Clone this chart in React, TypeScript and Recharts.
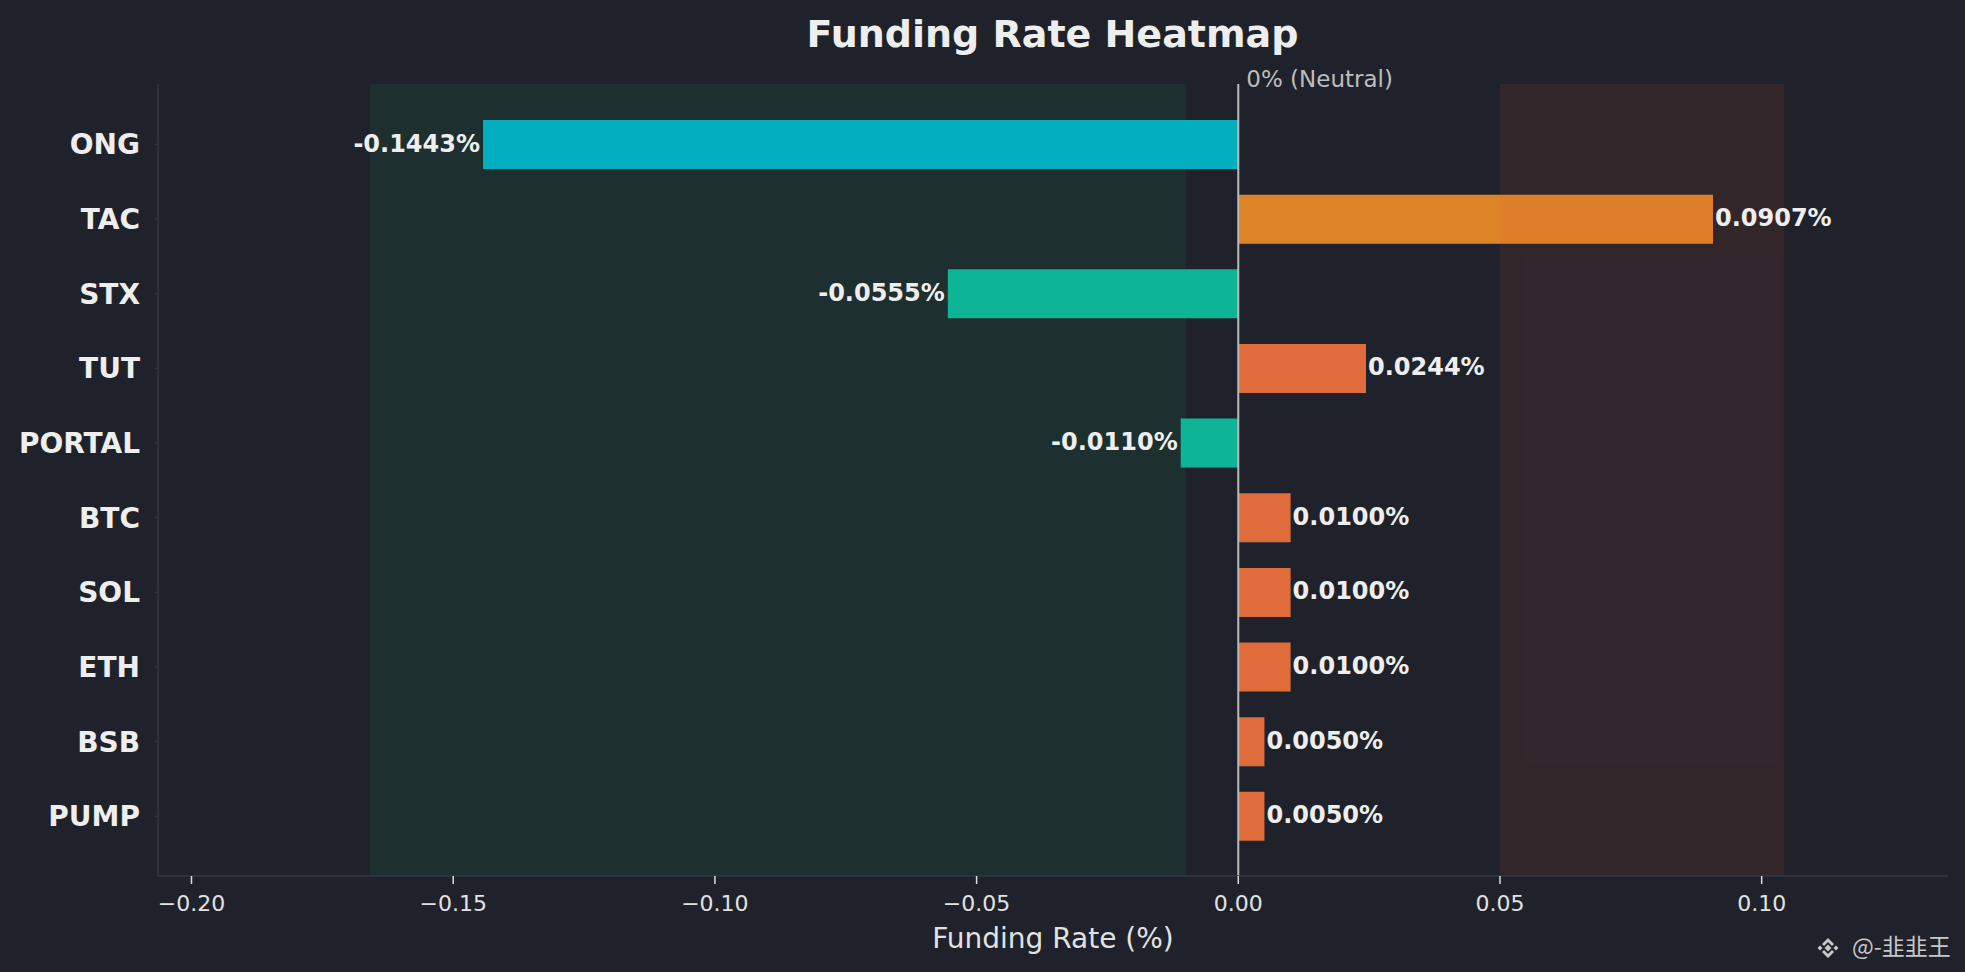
import { Bar, BarChart, Cell, LabelList, ReferenceArea, ReferenceLine, XAxis, YAxis } from "recharts"

const symbols = ["ONG", "TAC", "STX", "TUT", "PORTAL", "BTC", "SOL", "ETH", "BSB", "PUMP"]
const fundingRates = [-0.1443, 0.0907, -0.0555, 0.0244, -0.011, 0.01, 0.01, 0.01, 0.005, 0.005]
const barColors = ["#03AFBF", "#DD8428", "#0DB495", "#DF6C3A", "#0DB495", "#DF6C3A", "#DF6C3A", "#DF6C3A", "#DF6C3A", "#DF6C3A"]
const xTicks = [-0.2, -0.15, -0.1, -0.05, 0, 0.05, 0.1]
const xDomain = [-0.2064, 0.1356]

// shaded zones: green from min*1.15 to -0.01, red from 0.05 to max*1.15
const longZone = [-0.1659, -0.01]
const shortZone = [0.05, 0.1043]

const BG = "#1F222A"
const SPINE = "#33373F"
const FONT = "'DejaVu Sans', sans-serif"
const PAD_TOP = 23
const PAD_BOTTOM = 22.5

const chartData = symbols.map((symbol, i) => ({ symbol, rate: fundingRates[i] }))

function ValueLabel(props: any) {
    const { x, y, width, height, value } = props
    const left = Math.min(x, x + width)
    const right = Math.max(x, x + width)
    const neg = value < 0
    return (
        <text
            x={neg ? left - 3 : right + 2}
            y={y + height / 2 + 7}
            textAnchor={neg ? "end" : "start"}
            fill="#EEEEEE"
            fontSize={24}
            fontWeight="bold"
            fontFamily={FONT}
        >
            {value.toFixed(4)}%
        </text>
    )
}

function XTick(props: any) {
    const { x, y, payload } = props
    return (
        <text x={x} y={y + 16} textAnchor="middle" fill="#E2E2E2" fontSize={22} fontFamily={FONT}>
            {payload.value.toFixed(2).replace("-", "\u2212")}
        </text>
    )
}

function YTick(props: any) {
    const { x, y, payload } = props
    return (
        <text x={x} y={y + 10} textAnchor="end" fill="#EEEEEE" fontSize={28} fontWeight="bold" fontFamily={FONT}>
            {payload.value}
        </text>
    )
}

// spans should cover the whole plot height, including the category padding
function zoneShape(fill: string, opacity: number) {
    return (props: any) => (
        <rect
            x={props.x}
            y={props.y - PAD_TOP}
            width={props.width}
            height={props.height + PAD_TOP + PAD_BOTTOM}
            fill={fill}
            fillOpacity={opacity}
        />
    )
}

export default function App() {
    return (
        <div style={{ position: "absolute", left: 0, top: 0, width: 1965, height: 972, background: BG, fontFamily: FONT }}>
            <BarChart
                width={1965}
                height={972}
                data={chartData}
                layout="vertical"
                margin={{ top: 84, right: 17, bottom: 0, left: 0 }}
            >
                <XAxis
                    type="number"
                    dataKey="rate"
                    domain={xDomain}
                    ticks={xTicks}
                    allowDataOverflow
                    height={96}
                    tick={XTick}
                    tickSize={8}
                    tickMargin={11}
                    tickLine={{ stroke: "#DDDDDD", strokeWidth: 1.5 }}
                    axisLine={{ stroke: SPINE, strokeWidth: 1.5 }}
                    label={{
                        content: ({ viewBox }: any) => (
                            <text x={viewBox.x + viewBox.width / 2} y={948} textAnchor="middle" fill="#E2E2E2" fontSize={28} fontFamily={FONT}>
                                Funding Rate (%)
                            </text>
                        ),
                    }}
                />
                <YAxis
                    type="category"
                    dataKey="symbol"
                    width={158}
                    interval={0}
                    padding={{ top: PAD_TOP, bottom: PAD_BOTTOM }}
                    tick={YTick}
                    tickSize={4}
                    tickMargin={14}
                    tickLine={{ stroke: SPINE }}
                    axisLine={{ stroke: SPINE, strokeWidth: 1.5 }}
                />
                <ReferenceArea x1={longZone[0]} x2={longZone[1]} shape={zoneShape("#1D2F2F", 1)} />
                <Bar dataKey="rate" barSize={49} isAnimationActive={false}>
                    {chartData.map((d, i) => (
                        <Cell key={d.symbol} fill={barColors[i]} />
                    ))}
                    <LabelList dataKey="rate" content={ValueLabel} />
                </Bar>
                {/* red zone sits over the bars, so TAC gets tinted like in matplotlib */}
                <ReferenceArea x1={shortZone[0]} x2={shortZone[1]} shape={zoneShape("#E74C3C", 0.1)} zIndex={350} />
                <ReferenceLine
                    x={0}
                    stroke="#BBBBBB"
                    strokeWidth={2}
                    zIndex={400}
                    label={{
                        content: ({ viewBox }: any) => (
                            <text x={viewBox.x + 8} y={viewBox.y + 3} fill="#BDBDBD" fontSize={23} fontFamily={FONT}>
                                0% (Neutral)
                            </text>
                        ),
                    }}
                />
            </BarChart>
            <svg width={1965} height={972} style={{ position: "absolute", left: 0, top: 0, pointerEvents: "none" }}>
                <text x={1052.5} y={47} textAnchor="middle" fill="#EEEEEE" fontSize={38} fontWeight="bold" fontFamily={FONT}>
                    Funding Rate Heatmap
                </text>
                {/* little exchange logo next to the watermark */}
                <g fill="#C8C8C8" transform="translate(1828 948)">
                    <polygon points="0,-3.5 3.5,0 0,3.5 -3.5,0" />
                    <polygon points="-8,-2.5 -5.5,0 -8,2.5 -10.5,0" />
                    <polygon points="8,-2.5 10.5,0 8,2.5 5.5,0" />
                    <polygon points="0,-10 6,-4 4,-2 0,-6 -4,-2 -6,-4" />
                    <polygon points="0,10 6,4 4,2 0,6 -4,2 -6,4" />
                </g>
                <text x={1852} y={955} fill="#C8C8C8" fontSize={23} fontFamily="'Noto Sans CJK SC', 'DejaVu Sans', sans-serif">
                    @-韭韭王
                </text>
            </svg>
        </div>
    )
}
